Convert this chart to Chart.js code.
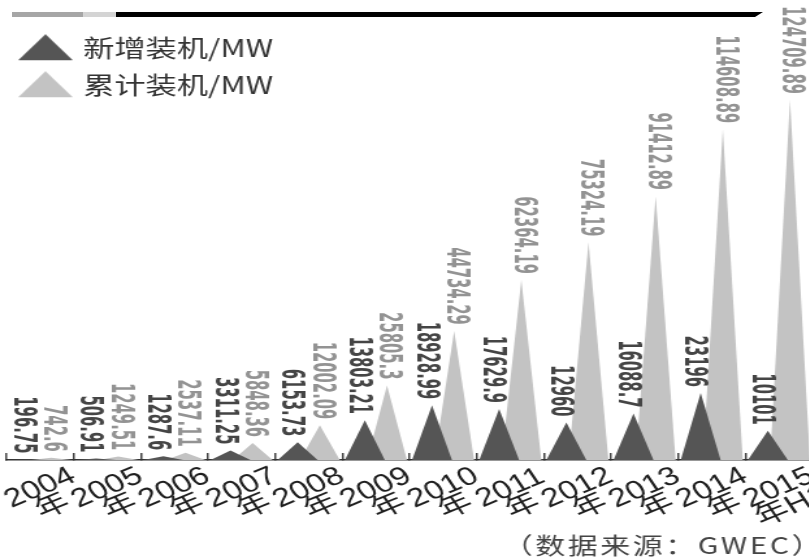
<!DOCTYPE html>
<html>
<head>
<meta charset="utf-8">
<script src="https://cdn.jsdelivr.net/npm/chart.js@4/dist/chart.umd.min.js"></script>
<style>
  html, body { margin: 0; padding: 0; background: #fff; overflow: hidden; width: 809px; height: 559px; }
  #wrap { position: absolute; left: 0; top: 0; width: 626px; height: 559px; transform: scaleX(1.3); transform-origin: 0 0; }
  .bar { position: absolute; top: 12px; height: 5px; z-index: 2; }
  #barA { left: 12px; width: 72px; background: #a6a6a6; }
  #barB { left: 83px; width: 36px; background: #d4d4d4; }
  #barC { left: 116px; width: 647px; background: #000; clip-path: polygon(0 0, 100% 0, calc(100% - 8px) 100%, 0 100%); }
</style>
</head>
<body>
<div class="bar" id="barA"></div>
<div class="bar" id="barB"></div>
<div class="bar" id="barC"></div>
<div id="wrap"><canvas id="windChart"></canvas></div>
<script>
const categories = ['2004年', '2005年', '2006年', '2007年', '2008年', '2009年',
                    '2010年', '2011年', '2012年', '2013年', '2014年', '2015年H1'];
const newCapacity = [196.75, 506.91, 1287.6, 3311.25, 6153.73, 13803.21,
                     18928.99, 17629.9, 12960, 16088.7, 23196, 10101];
const totalCapacity = [742.6, 1249.51, 2537.11, 5848.36, 12002.09, 25805.3,
                       44734.29, 62364.19, 75324.19, 91412.89, 114608.89, 124709.89];
const seriesNames = ['新增装机/MW', '累计装机/MW'];
const seriesColors = ['#555555', '#c3c3c3'];
const labelColors = ['#454545', '#939393'];
const sourceNote = '（数据来源：GWEC）';

// flat triangle icons for the legend
function makeIcon(color) {
  const c = document.createElement('canvas');
  c.width = 42; c.height = 30;
  const g = c.getContext('2d');
  g.fillStyle = color;
  g.beginPath();
  g.moveTo(0, 27); g.lineTo(21, 1); g.lineTo(42, 27); g.closePath();
  g.fill();
  return c;
}
const legendIcons = seriesColors.map(makeIcon);

// bars are drawn as triangles rising from the base
const triangleBars = {
  id: 'triangleBars',
  beforeDatasetDraw(chart, args) {
    const ctx = chart.ctx;
    ctx.save();
    ctx.fillStyle = seriesColors[args.index];
    args.meta.data.forEach(bar => {
      const { x, y, base, width } = bar.getProps(['x', 'y', 'base', 'width'], true);
      const half = width * 0.9;
      ctx.beginPath();
      ctx.moveTo(x - half, base);
      ctx.lineTo(x, y);
      ctx.lineTo(x + half, base);
      ctx.closePath();
      ctx.fill();
    });
    ctx.restore();
    return false;
  }
};

// vertical value labels above each peak
const peakLabels = {
  id: 'peakLabels',
  afterDatasetsDraw(chart) {
    const ctx = chart.ctx;
    const shift = [-5, 1];
    chart.data.datasets.forEach((ds, i) => {
      const meta = chart.getDatasetMeta(i);
      ctx.save();
      ctx.font = 'bold 25px "Liberation Sans Narrow", "DejaVu Sans Condensed", sans-serif';
      const k = 10.3 / ctx.measureText('0').width;
      ctx.fillStyle = labelColors[i];
      ctx.textAlign = 'right';
      ctx.textBaseline = 'middle';
      meta.data.forEach((bar, j) => {
        ctx.save();
        ctx.translate(bar.x + shift[i], bar.y - 6);
        ctx.rotate(Math.PI / 2);
        ctx.scale(k, 1);
        ctx.fillText(String(ds.data[j]), 0, 0);
        ctx.restore();
      });
      ctx.restore();
    });
  }
};

// slanted two-line year labels and the source note
const axisText = {
  id: 'axisText',
  afterDraw(chart) {
    const ctx = chart.ctx;
    const xs = chart.scales.x;
    ctx.save();
    ctx.fillStyle = '#1e1e1e';
    ctx.font = '26px "Liberation Sans", "Noto Sans CJK SC", sans-serif';
    ctx.textAlign = 'center';
    ctx.textBaseline = 'middle';
    categories.forEach((c, i) => {
      const cut = c.indexOf('年');
      ctx.save();
      ctx.translate(xs.getPixelForTick(i), 488);
      ctx.rotate(-28 * Math.PI / 180);
      ctx.fillText(c.slice(0, cut), 0, 0);
      ctx.fillText(c.slice(cut), 0, 21);
      ctx.restore();
    });
    ctx.font = '23px "Noto Sans CJK SC", sans-serif';
    ctx.letterSpacing = '2px';
    ctx.fillStyle = '#444';
    ctx.textAlign = 'right';
    ctx.fillText(sourceNote, 634, 545);
    ctx.restore();
  }
};

new Chart(document.getElementById('windChart'), {
  type: 'bar',
  data: {
    labels: categories,
    datasets: [
      { label: seriesNames[0], data: newCapacity, backgroundColor: seriesColors[0] },
      { label: seriesNames[1], data: totalCapacity, backgroundColor: seriesColors[1] }
    ]
  },
  options: {
    responsive: true,
    maintainAspectRatio: false,
    devicePixelRatio: 1,
    animation: false,
    events: [],
    layout: { padding: { left: 5, right: 1, top: 23, bottom: 0 } },
    datasets: { bar: { categoryPercentage: 0.66, barPercentage: 1 } },
    scales: {
      x: {
        grid: { offset: true, drawOnChartArea: false, tickLength: -7, color: '#444', lineWidth: 1.5 },
        border: { color: '#333', width: 1.5 },
        ticks: { display: false },
        afterFit: scale => { scale.height = 99; }
      },
      y: { display: false, min: 0, max: 151400 }
    },
    plugins: {
      tooltip: { enabled: false },
      legend: {
        position: 'chartArea',
        align: 'start',
        title: { display: true, text: '', font: { size: 1 }, padding: { top: 22, bottom: 0 } },
        labels: {
          usePointStyle: true,
          pointStyleWidth: 34,
          padding: 13,
          color: '#333',
          font: { size: 24, family: '"Noto Sans CJK SC", sans-serif' },
          generateLabels(chart) {
            const items = Chart.defaults.plugins.legend.labels.generateLabels(chart);
            items.forEach((it, i) => { it.pointStyle = legendIcons[i]; });
            return items;
          }
        }
      }
    }
  },
  plugins: [triangleBars, peakLabels, axisText]
});
</script>
</body>
</html>
